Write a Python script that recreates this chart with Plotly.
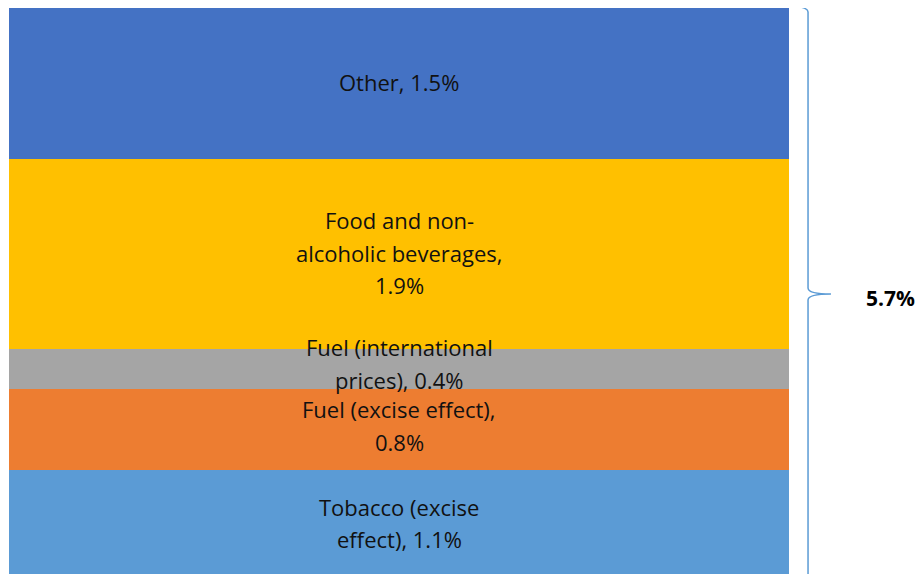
import plotly.graph_objects as go

categories = ["Tobacco (excise effect)", "Fuel (excise effect)", "Fuel (international prices)",
              "Food and non-alcoholic beverages", "Other"]
values = [1.1, 0.8, 0.4, 1.9, 1.5]
label_lines = [
    ["Tobacco (excise", "effect), 1.1%"],
    ["Fuel (excise effect),", "0.8%"],
    ["Fuel (international", "prices), 0.4%"],
    ["Food and non-", "alcoholic beverages,", "1.9%"],
    ["Other, 1.5%"],
]
colors = ["#5B9BD5", "#ED7D31", "#A5A5A5", "#FFC000", "#4472C4"]
total_label = "5.7%"

# small upward nudges (px) of each label block
label_nudge = [2, 4, 6, 1, 1]

total = sum(values)

fig = go.Figure()
for cat, v, c in zip(categories, values, colors):
    fig.add_trace(go.Bar(x=[0], y=[v], name=cat, marker=dict(color=c, line=dict(width=0)),
                         hoverinfo="name+y"))

annotations = []
base = 0.0
for lines, v, nudge in zip(label_lines, values, label_nudge):
    center = base + v / 2
    n = len(lines)
    for i, ln in enumerate(lines):
        annotations.append(dict(
            x=0, y=center, xref="x", yref="y", text=ln, showarrow=False,
            xanchor="center", yanchor="middle",
            yshift=((n - 1) / 2 - i) * 32.5 + nudge,
            font=dict(family="Open Sans", size=22, color="#111111"),
        ))
    base += v

# total label next to brace
annotations.append(dict(
    x=1.1295, y=total / 2, xref="paper", yref="y", text=total_label, showarrow=False,
    xanchor="center", yanchor="middle",
    yshift=-4, font=dict(family="Open Sans", size=21, color="#000000", weight="bold"),
))

# brace in paper-x / data-y coordinates
x0, x1, x2 = 0.995, 1.0244, 1.0538
ytop = total + 0.02
mid = total / 2
path = (f"M {x0},{ytop} Q {x1},{ytop} {x1},{total - 0.04} "
        f"L {x1},{mid + 0.06} Q {x1},{mid} {x2},{mid} "
        f"Q {x1},{mid} {x1},{mid - 0.06} L {x1},{-0.05}")

fig.update_layout(
    width=920, height=574,
    margin=dict(l=9, r=131, t=8, b=0),
    barmode="stack", bargap=0,
    plot_bgcolor="white", paper_bgcolor="white",
    showlegend=False,
    xaxis=dict(visible=False, range=[-0.5, 0.5]),
    yaxis=dict(visible=False, range=[0.06, total]),
    annotations=annotations,
    shapes=[dict(type="path", path=path, xref="paper", yref="y",
                 line=dict(color="#5B9BD5", width=1.5))],
)

fig.write_html("out.html")
